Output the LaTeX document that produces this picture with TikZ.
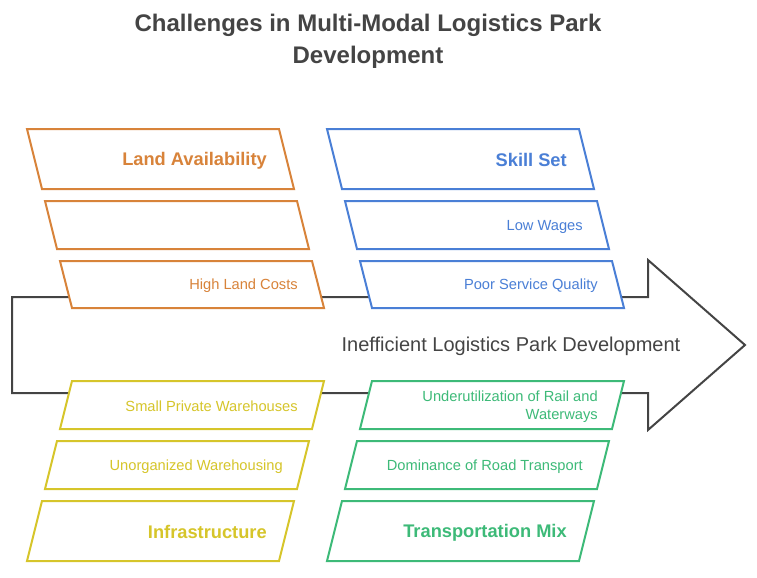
\documentclass[tikz,border=0pt]{standalone}
\usepackage{fontspec}
\setmainfont{Liberation Sans}
\usepackage{xcolor}
\usetikzlibrary{positioning}

\definecolor{landc}{HTML}{D8833A}
\definecolor{skillc}{HTML}{4A7FD6}
\definecolor{infrac}{HTML}{D6C52A}
\definecolor{transc}{HTML}{3DBA78}
\definecolor{ink}{HTML}{444444}

\begin{document}
\begin{tikzpicture}[x=0.75pt, y=-0.75pt,
  box/.style={line width=1.5pt, fill=white},
  txt/.style={anchor=east, align=right, inner sep=0pt, font=\fontsize{11}{13.5}\selectfont},
  head/.style={anchor=east, inner sep=0pt, font=\bfseries\fontsize{13.7}{16}\selectfont}]
\useasboundingbox (0,0) rectangle (757,578);

% Title
\node[font=\bfseries\fontsize{18}{24}\selectfont, text=ink, align=center] (title) at (368,41) {Challenges in Multi-Modal Logistics Park\\Development};

% Main arrow (the effect)
\draw[line width=1.5pt, ink] (12,297) -- (648,297) -- (648,260) -- (745,345) -- (648,430) -- (648,393) -- (12,393) -- cycle;
\node[font=\fontsize{15}{18}\selectfont, text=ink] (effect) at (511,346) {Inefficient Logistics Park Development};

% Upper causes
\foreach \dx/\col in {0/landc, 300/skillc} {
  \foreach \xt/\yt/\xb/\yb in {27/129/42/189, 45/201/57/249, 60/261/72/308} {
    \draw[box, draw=\col] (\xt+\dx,\yt) -- ++(252,0) -- (\xb+\dx+252,\yb) -- (\xb+\dx,\yb) -- cycle;
  }
}

% Lower causes
\foreach \dx/\col in {0/infrac, 300/transc} {
  \foreach \xt/\yt/\xb/\yb in {72/381/60/429, 57/441/45/489, 42/501/27/561} {
    \draw[box, draw=\col] (\xt+\dx,\yt) -- ++(252,0) -- (\xb+\dx+252,\yb) -- (\xb+\dx,\yb) -- cycle;
  }
}

% Labels
\node[head, text=landc] (land) at (267,160.5) {Land Availability};
\node[txt, text=landc] (landcost) at (298,286) {High Land Costs};

\node[head, text=skillc] (skill) at (567,160) {Skill Set};
\node[txt, text=skillc] (wages) at (583,226.5) {Low Wages};
\node[txt, text=skillc] (service) at (598,286) {Poor Service Quality};

\node[txt, text=infrac] (smallwh) at (298,406.5) {Small Private Warehouses};
\node[txt, text=infrac] (unorgwh) at (283,466.5) {Unorganized Warehousing};
\node[head, text=infrac] (infra) at (267,532) {Infrastructure};

\node[txt, text=transc] (railwater) at (598,406.5) {Underutilization of Rail and\\Waterways};
\node[txt, text=transc] (road) at (583,466.5) {Dominance of Road Transport};
\node[head, text=transc] (transmix) at (567,532.5) {Transportation Mix};
\end{tikzpicture}
\end{document}
